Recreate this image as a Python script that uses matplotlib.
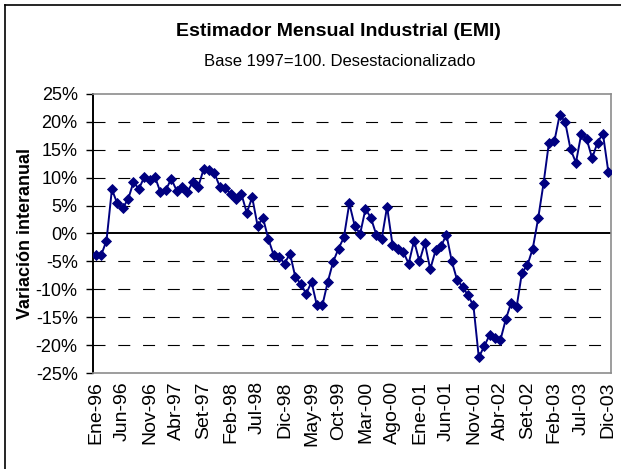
import numpy as np
import matplotlib
matplotlib.use("Agg")
import matplotlib.pyplot as plt
from matplotlib.lines import Line2D

plt.rcParams['font.family'] = ['Liberation Sans', 'DejaVu Sans']

# =====================
# Data (variación interanual, %)
# =====================
months = ['Ene', 'Feb', 'Mar', 'Abr', 'May', 'Jun', 'Jul', 'Ago', 'Set', 'Oct', 'Nov', 'Dic']
years = ['96', '97', '98', '99', '00', '01', '02', '03']
labels = [f"{m}-{y}" for y in years for m in months]

emi_1996 = [-3.9, -3.9, -1.3, 7.9, 5.4, 4.6, 6.1, 9.2, 8.0, 10.1, 9.5, 10.1]
emi_1997 = [7.4, 7.8, 9.8, 7.7, 8.4, 7.5, 9.2, 8.4, 11.5, 11.3, 10.8, 8.4]
emi_1998 = [8.2, 7.1, 6.1, 7.1, 3.7, 6.5, 1.4, 2.8, -1.0, -3.9, -4.2, -5.4]
emi_1999 = [-3.6, -7.8, -9.0, -10.8, -8.7, -12.9, -12.9, -8.7, -5.1, -2.7, -0.7, 5.4]
emi_2000 = [1.4, -0.1, 4.4, 2.8, -0.2, -1.0, 4.8, -2.0, -2.7, -3.3, -5.4, -1.3]
emi_2001 = [-5.0, -1.7, -6.4, -3.0, -2.3, -0.2, -5.0, -8.4, -9.5, -11.1, -12.9, -22.2]
emi_2002 = [-20.2, -18.2, -18.8, -19.1, -15.4, -12.4, -13.2, -7.0, -5.7, -2.7, 2.7, 9.0]
emi_2003 = [16.3, 16.5, 21.3, 20.0, 15.1, 12.7, 17.9, 16.9, 13.5, 16.3, 17.9, 11.1]

emi = emi_1996 + emi_1997 + emi_1998 + emi_1999 + emi_2000 + emi_2001 + emi_2002 + emi_2003
x = np.arange(len(emi))

yticks = np.arange(-25, 26, 5)
xtick_pos = x[::5]

# =====================
# Plot
# =====================
fig = plt.figure(figsize=(6.21, 4.69), dpi=100)
ax = fig.add_axes([93 / 621, 96 / 469, 518 / 621, 279 / 469])

# chart-area border (only left/top fall inside the picture)
fig.add_artist(Line2D([5 / 621, 5 / 621], [0, 1 - 5 / 469], transform=fig.transFigure,
                      color='black', lw=1.2))
fig.add_artist(Line2D([5 / 621, 1], [1 - 5 / 469, 1 - 5 / 469], transform=fig.transFigure,
                      color='black', lw=1.2))

for v in yticks[1:-1]:
    if v == 0:
        continue
    ax.axhline(v, color='black', lw=0.8, dashes=(10.8, 11.5), zorder=1)
ax.axhline(0, color='black', lw=1.4, zorder=2)

ax.plot(x, emi, color='#000080', lw=1.4, marker='D', markersize=4.8,
        markeredgecolor='#000080', markeredgewidth=0.6, zorder=3)

ax.set_xlim(-0.5, len(emi) - 0.5)
ax.set_ylim(-25, 25)
ax.set_yticks(yticks)
ax.set_yticklabels([f"{v}%" for v in yticks])
ax.set_xticks(xtick_pos)
ax.set_xticklabels([labels[i] for i in xtick_pos], rotation=90)

ax.tick_params(axis='y', direction='out', length=5, width=1, labelsize=13, pad=6)
ax.tick_params(axis='x', length=0, labelsize=14, pad=6)

for side in ['top', 'right', 'bottom']:
    ax.spines[side].set_color('#8c8c8c')
    ax.spines[side].set_linewidth(1.2)
ax.spines['left'].set_color('black')
ax.spines['left'].set_linewidth(1.4)

ax.set_ylabel("Variación interanual", fontsize=13, fontweight='bold', labelpad=1)

fig.text(338 / 621, 1 - 32 / 469, "Estimador Mensual Industrial (EMI)",
         ha='center', va='center', fontsize=14, fontweight='bold')
fig.text(340 / 621, 1 - 61 / 469, "Base 1997=100. Desestacionalizado",
         ha='center', va='center', fontsize=12)

fig.savefig("out.png", dpi=100)
